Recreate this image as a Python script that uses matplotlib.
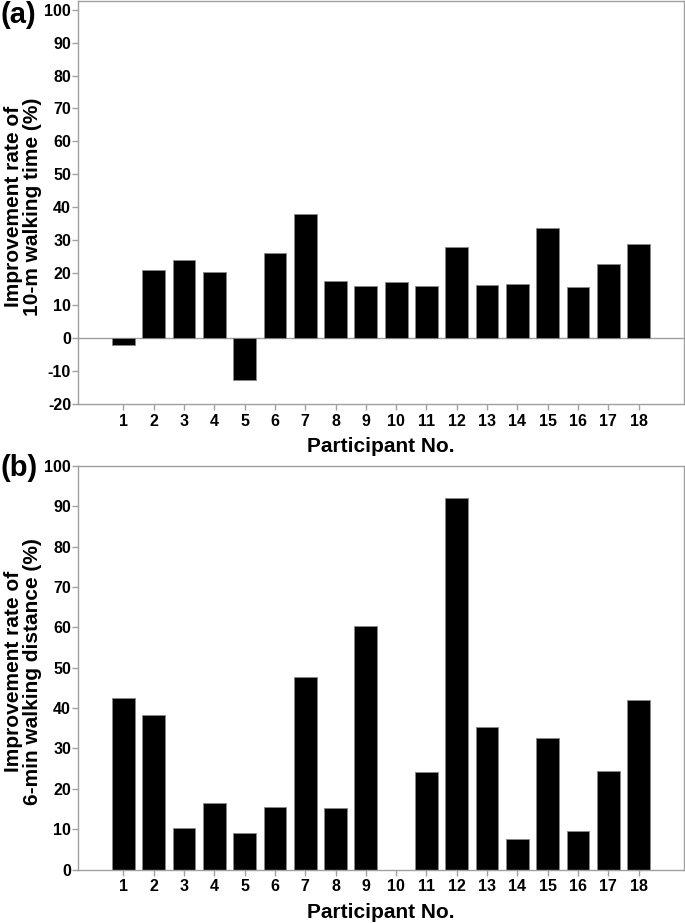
import matplotlib
matplotlib.use("Agg")
import matplotlib.pyplot as plt
import numpy as np

plt.rcParams['font.family'] = ['Liberation Sans', 'DejaVu Sans']
plt.rcParams['font.weight'] = 'bold'

participants = list(range(1, 19))
walk_time_10m = [-1.9, 20.7, 23.8, 20.2, -12.8, 25.9, 38.0, 17.4, 16.0,
                 17.0, 16.0, 27.9, 16.2, 16.4, 33.7, 15.7, 22.5, 28.6]
walk_dist_6min = [42.6, 38.4, 10.2, 16.6, 9.1, 15.4, 47.8, 15.2, 60.4,
                  0.0, 24.1, 92.0, 35.3, 7.5, 32.6, 9.5, 24.4, 42.0]

spine_gray = '#a0a0a0'
tick_fs = 11.5

fig = plt.figure(figsize=(6.85, 9.23), dpi=100)
ax1 = fig.add_axes([78 / 685, 1 - 404 / 923, 606 / 685, 403 / 923])
ax2 = fig.add_axes([78 / 685, 1 - 869.5 / 923, 606 / 685, 403.5 / 923])


def style(ax, ylim, yticks, ylabel, panel, panel_y):
    ax.set_xlim(-0.5, 19.5)
    ax.set_ylim(*ylim)
    ax.set_xticks(participants)
    ax.set_xticklabels([str(p) for p in participants],
                       fontsize=tick_fs, fontweight='bold')
    ax.set_yticks(yticks)
    ax.set_yticklabels([str(t) for t in yticks],
                       fontsize=tick_fs, fontweight='bold')
    for s in ax.spines.values():
        s.set_color(spine_gray)
        s.set_linewidth(1.0)
    ax.tick_params(axis='both', colors=spine_gray, length=4, width=1,
                   labelcolor='black')
    ax.tick_params(axis='y', pad=1)
    ax.tick_params(axis='x', pad=3)
    ax.set_xlabel('Participant No.', fontsize=15, fontweight='bold', labelpad=6)
    ax.set_ylabel(ylabel, fontsize=15, fontweight='bold', linespacing=1.0)
    ax.yaxis.set_label_coords(-0.06, 0.49)
    ax.text(-0.128, panel_y, panel, transform=ax.transAxes, fontsize=21,
            fontweight='bold', ha='left', va='top')


ax1.bar(participants, walk_time_10m, width=0.75, color='black',
        edgecolor='#888888', linewidth=0.6, zorder=2)
ax1.axhline(0, color=spine_gray, linewidth=1.0, zorder=1)
style(ax1, (-20, 102.7), list(range(-20, 101, 10)),
      'Improvement rate of\n10-m walking time (%)', '(a)', 1.0)

ax2.bar(participants, walk_dist_6min, width=0.75, color='black',
        edgecolor='#888888', linewidth=0.6, zorder=2)
style(ax2, (0, 100), list(range(0, 101, 10)),
      'Improvement rate of\n6-min walking distance (%)', '(b)', 1.03)

fig.savefig('out.png', dpi=100)
